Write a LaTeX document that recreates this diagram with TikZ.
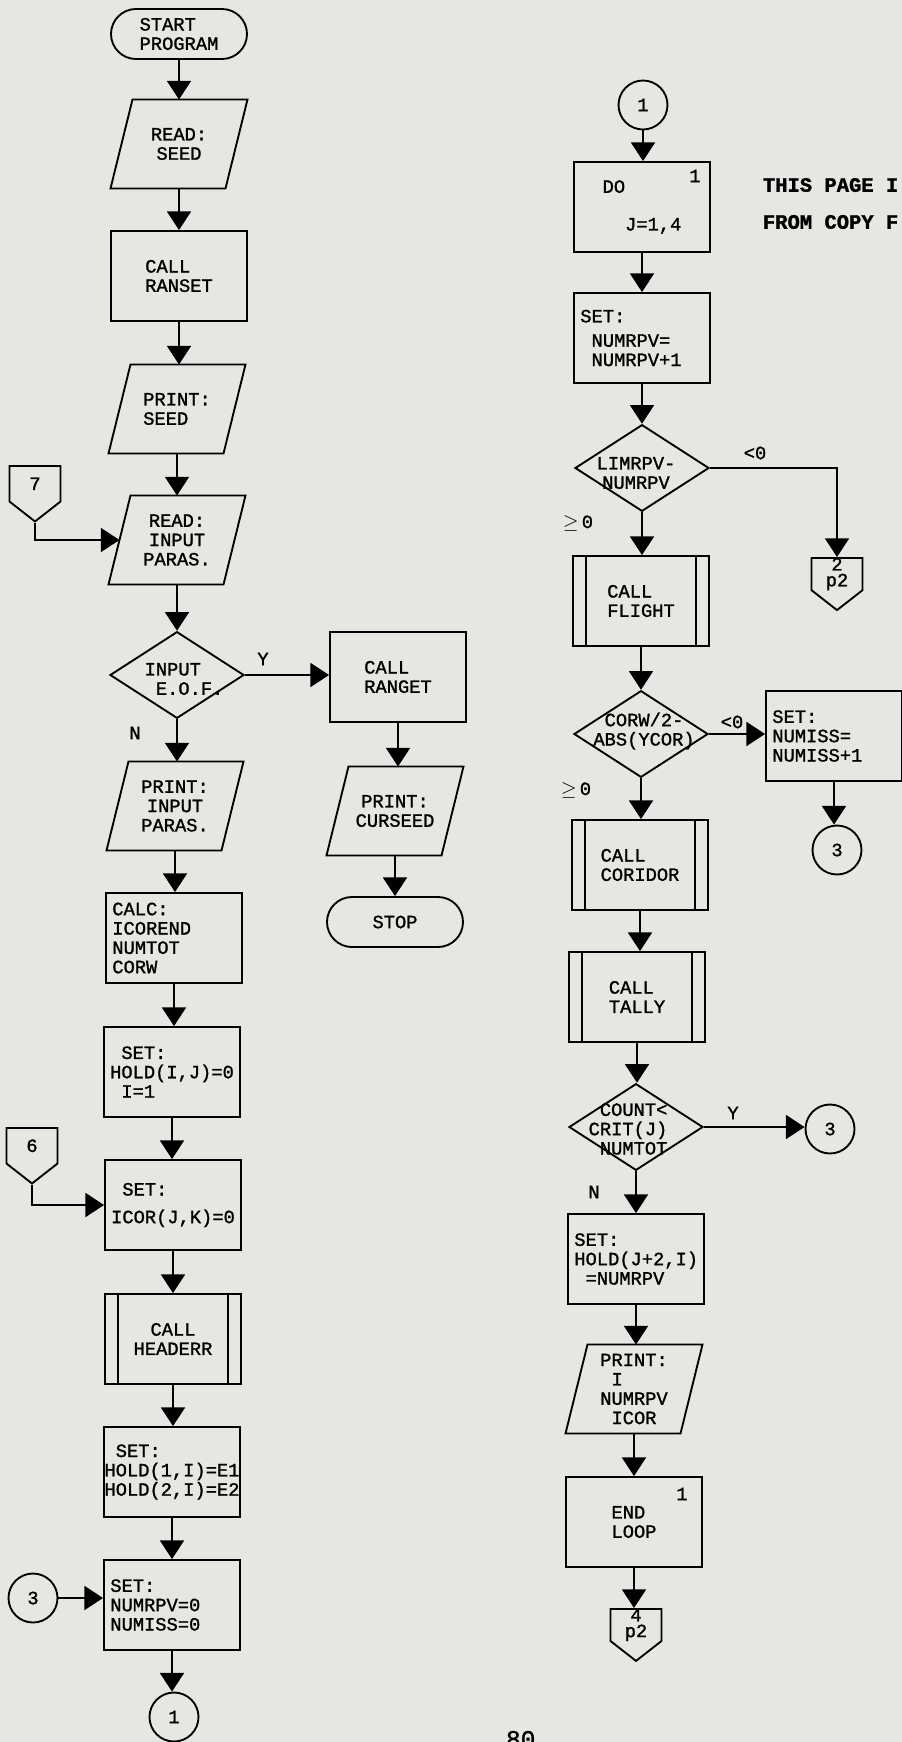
\documentclass[tikz,border=0pt]{standalone}
\usepackage{fontspec}
\usetikzlibrary{arrows.meta,shapes.geometric,shapes.misc,shapes.symbols}
\newfontfamily\typew{Liberation Mono}[FakeBold=1.3]
\definecolor{paper}{RGB}{230,230,227}

\begin{document}
\begin{tikzpicture}[x=0.03cm, y=-0.03cm, line width=1.6pt,
    every node/.style={font=\typew\fontsize{16}{16.5}\selectfont},
    box/.style={draw, rectangle, minimum width=4.08cm, minimum height=2.7cm, inner sep=0pt, align=left},
    boxl/.style={box, text width=3.7cm},
    io/.style={rectangle, minimum width=3.45cm, minimum height=2.67cm, inner sep=0pt, outer sep=0pt, align=center},
    term/.style={draw, rounded rectangle, minimum width=4.08cm, minimum height=1.5cm, inner sep=0pt, align=left},
    dec/.style={draw, diamond, minimum width=4.02cm, minimum height=2.6cm, inner sep=0pt},
    dtext/.style={inner sep=0pt, align=center},
    conn/.style={draw, circle, minimum size=1.47cm, inner sep=0pt},
    offp/.style={draw, signal, signal to=south, signal from=nowhere, signal pointer angle=104,
      minimum width=1.53cm, minimum height=1.2cm, inner sep=0pt, align=center},
    lbl/.style={inner sep=0pt},
    arr/.style={-{Triangle[length=0.56cm, width=0.72cm]}}]
  \useasboundingbox (0,0) rectangle (902,1742);
  \fill[paper] (0,0) rectangle (902,1742);
  % left column
  \node[term] (start) at (179,34) {START\\PROGRAM};
  \node[io] (rd1) at (179,144) {READ:\\SEED};
  \node[box] (ranset) at (179,276) {CALL\\RANSET};
  \node[io, align=left] (pr1) at (177,409) {PRINT:\\SEED};
  \node[io] (rd2) at (177,540) {READ:\\INPUT\\PARAS.};
  \node[dec] (eof) at (177,675) {};
  \node[dtext, align=left] (eoft) at (184,679) {INPUT\\\hphantom{I}E.O.F.};
  \node[io] (pr2) at (175,806) {PRINT:\\INPUT\\PARAS.};
  \node[boxl] (calc) at (174,938) {CALC:\\ICOREND\\NUMTOT\\CORW};
  \node[box] (set1) at (172,1072) {\hphantom{H}SET:\\HOLD(I,J)=0\\\hphantom{H}I=1};
  \node[box] (set2) at (173,1205) {\hphantom{I}SET:\\[0.25cm]ICOR(J,K)=0};
  \node[box, align=center] (hdr) at (173,1339) {CALL\\HEADERR};
  \node[box] (set3) at (172,1472) {\hphantom{H}SET:\\HOLD(1,I)=E1\\HOLD(2,I)=E2};
  \node[boxl] (set4) at (172,1605) {SET:\\NUMRPV=0\\NUMISS=0};
  \node[conn] (c1b) at (174,1717) {1};
  % entries from other pages
  \node[offp, anchor=north] (c7) at (35,465) {7};
  \node[offp, anchor=north] (c6) at (32,1127) {6};
  \node[conn] (c3a) at (33,1598) {3};
  % end of input
  \node[box] (rget) at (398,677) {CALL\\RANGET};
  \node[io] (pcur) at (395,811) {PRINT:\\CURSEED};
  \node[term, align=center] (stop) at (395,922) {STOP};
  % right column, the loop over J
  \node[conn] (c1t) at (643,105) {1};
  \node[box] (dobox) at (642,207) {DO\\[0.55cm]\hphantom{DO}J=1,4};
  \node[lbl] (do1) at (695,176) {1};
  \node[boxl] (setn) at (642,338) {SET:\\[0.15cm]\hphantom{N}NUMRPV=\\\hphantom{N}NUMRPV+1};
  \node[dec] (lim) at (642,468) {};
  \node[dtext] (limt) at (636,473) {LIMRPV-\\NUMRPV};
  \node[offp, anchor=north] (c2) at (837,557) {2\\[-3pt]p2};
  \node[box] (flt) at (641,601) {CALL\\FLIGHT};
  \node[dec] (corw) at (641,734) {};
  \node[dtext] (corwt) at (644,731) {CORW/2-\\ABS(YCOR)};
  \node[boxl] (setm) at (834,736) {SET:\\NUMISS=\\NUMISS+1};
  \node[conn] (c3b) at (837,850) {3};
  \node[box] (cor) at (640,865) {CALL\\CORIDOR};
  \node[box] (tal) at (637,997) {CALL\\TALLY};
  \node[dec] (cnt) at (636,1127) {};
  \node[dtext, align=left] (cntt) at (628,1129) {\hphantom{C}COUNT<\\CRIT(J)\\\hphantom{C}NUMTOT};
  \node[conn] (c3c) at (830,1129) {3};
  \node[boxl] (seth) at (636,1259) {SET:\\HOLD(J+2,I)\\\hphantom{H}=NUMRPV};
  \node[io, align=left] (pr3) at (634,1389) {PRINT:\\\hphantom{P}I\\NUMRPV\\\hphantom{I}ICOR};
  \node[box] (endl) at (634,1522) {END\\LOOP};
  \node[lbl] (end1) at (682,1494) {1};
  \node[offp, anchor=north] (c4) at (636,1608) {4\\[-3pt]p2};
  % branch labels
  \node[lbl] (ly1) at (263,659) {Y};
  \node[lbl] (ln1) at (135,733) {N};
  \node[lbl] (llt1) at (755,453) {<0};
  \node[lbl] (lge1) at (578,523) {$\geq$\,0};
  \node[lbl] (llt2) at (732,722) {<0};
  \node[lbl] (lge2) at (576,790) {$\geq$\,0};
  \node[lbl] (ly2) at (733,1113) {Y};
  \node[lbl] (ln2) at (594,1192) {N};
  % page stamp and page number
  \node[lbl, anchor=west, font=\typew\bfseries\fontsize{17.5}{20}\selectfont] (stamp1) at (762,185) {THIS PAGE I};
  \node[lbl, anchor=west, font=\typew\bfseries\fontsize{17.5}{20}\selectfont] (stamp2) at (762,222) {FROM COPY F};
  \node[lbl, anchor=north west, font=\typew\fontsize{21}{21}\selectfont] (pgno) at (505,1730) {80};
  % outlines of the input/output boxes
  \foreach \n in {rd1, pr1, rd2, pr2, pcur, pr3}
    \draw ([xshift=-0.33cm]\n.south west) -- ([xshift=-0.33cm]\n.south east)
      -- ([xshift=0.33cm]\n.north east) -- ([xshift=0.33cm]\n.north west) -- cycle;
  % inner bars of the subroutine boxes
  \foreach \n in {hdr, flt, cor, tal} {
    \draw ([xshift=0.42cm]\n.north west) -- ([xshift=0.42cm]\n.south west);
    \draw ([xshift=-0.42cm]\n.north east) -- ([xshift=-0.42cm]\n.south east);
  }
  % straight down the columns
  \foreach \a/\b in {start/rd1, rd1/ranset, ranset/pr1, pr1/rd2, rd2/eof, eof/pr2, pr2/calc,
      calc/set1, set1/set2, set2/hdr, hdr/set3, set3/set4, set4/c1b, rget/pcur, pcur/stop,
      c1t/dobox, dobox/setn, setn/lim, lim/flt, flt/corw, corw/cor, cor/tal, tal/cnt,
      cnt/seth, seth/pr3, pr3/endl, endl/c4, setm/c3b}
    \draw[arr] (\a) -- (\a |- \b.north);
  % branches and entries
  \draw[arr] (eof) -- (eof -| rget.west);
  \draw[arr] (c7.south) |- (rd2);
  \draw[arr] (c6.south) |- (set2);
  \draw[arr] (c3a) -- (c3a -| set4.west);
  \draw[arr] (lim) -| (c2);
  \draw[arr] (corw) -- (corw -| setm.west);
  \draw[arr] (cnt) -- (cnt -| c3c.west);
\end{tikzpicture}
\end{document}
